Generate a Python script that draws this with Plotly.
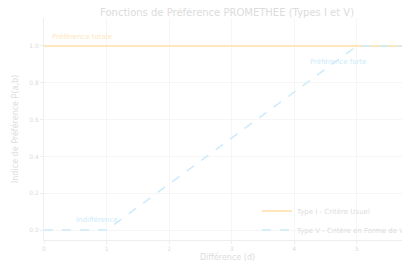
import plotly.graph_objects as go

d_type1 = [0, 6]
p_type1 = [1, 1]
d_type5 = [0, 1, 5, 6]
p_type5 = [0, 0, 1, 1]
x_ticks = [0, 1, 2, 3, 4, 5]
y_ticks = [0.0, 0.2, 0.4, 0.6, 0.8, 1.0]
y_tick_labels = ["0.0", "0.2", "0.4", "0.6", "0.8", "1.0"]

orange = "#ffe6bd"
blue = "#cdebfb"
txt = "#dcdcdc"
grid = "#f6f6f6"
font = "DejaVu Sans"

fig = go.Figure()
fig.add_trace(go.Scatter(x=d_type1, y=p_type1, mode="lines", name="Type I - Critère Usuel",
                         line=dict(color=orange, width=2)))
fig.add_trace(go.Scatter(x=d_type5, y=p_type5, mode="lines", name="Type V - Critère en Forme de V",
                         line=dict(color=blue, width=1.5, dash="dash")))

fig.add_annotation(x=0.1, y=1.05, text="Préférence totale", showarrow=False, xanchor="left",
                   font=dict(color=orange, size=7, family=font))
fig.add_annotation(x=0.85, y=0.055, text="Indifférence", showarrow=False,
                   font=dict(color=blue, size=7, family=font))
fig.add_annotation(x=4.7, y=0.915, text="Préférence forte", showarrow=False,
                   font=dict(color=blue, size=7, family=font))
fig.add_annotation(x=0.5, y=0, xref="x domain", yref="paper", yshift=-17, yanchor="middle",
                   text="Différence (d)", showarrow=False, font=dict(color=txt, size=8, family=font))
fig.add_annotation(x=0, y=0.5, xref="paper", yref="y domain", xshift=-22, xanchor="right",
                   text="Indice de Préférence P(a,b)", textangle=-90, showarrow=False,
                   font=dict(color=txt, size=8, family=font))

fig.update_layout(
    width=402, height=256,
    margin=dict(l=36, r=0, t=10, b=24, autoexpand=False),
    paper_bgcolor="white", plot_bgcolor="white",
    font=dict(family=font, color=txt, size=6),
    title=dict(text="Fonctions de Préférence PROMETHEE (Types I et V)", x=0.545, xanchor="center",
               y=0.984, yanchor="middle", font=dict(size=10, color=txt, family=font)),
    legend=dict(x=0.582, y=-0.02, xanchor="left", yanchor="bottom", bgcolor="rgba(255,255,255,0)",
                font=dict(size=7, color=txt, family=font), tracegroupgap=0, itemwidth=30),
    showlegend=True,
)
fig.update_xaxes(range=[0, 5.85], tickvals=x_ticks, showgrid=True, gridcolor=grid, zeroline=False,
                 showline=True, linecolor="#eeeeee", ticks="outside", ticklen=3, tickcolor="#eeeeee",
                 automargin=False)
fig.update_yaxes(range=[-0.054, 1.152], tickvals=y_ticks, ticktext=y_tick_labels, showgrid=True,
                 gridcolor=grid, zeroline=False, showline=True, linecolor="#eeeeee", ticks="outside",
                 ticklen=3, tickcolor="#eeeeee", automargin=False)

fig.write_html("out.html")
